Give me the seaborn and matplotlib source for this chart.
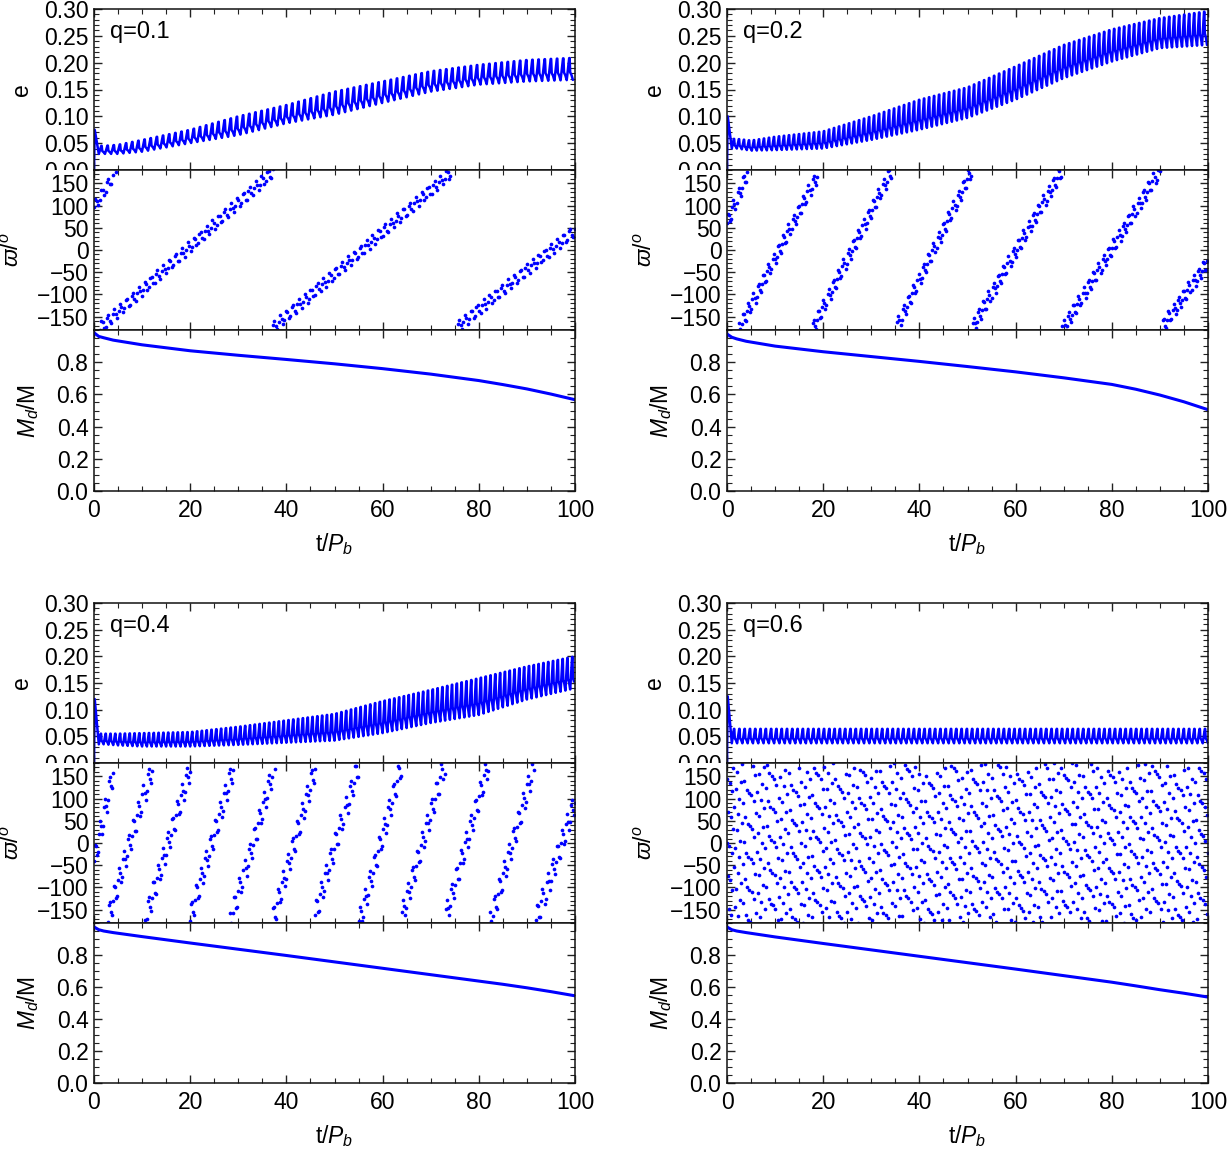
import numpy as np
import matplotlib
matplotlib.use("Agg")
import matplotlib.pyplot as plt
import seaborn as sns
from matplotlib.ticker import MultipleLocator
from matplotlib.transforms import Bbox, TransformedBbox

# ---- values ----
q_labels = ["q=0.1", "q=0.2", "q=0.4", "q=0.6"]

# eccentricity: upper / lower edge of the fast oscillation band
t_env = [2, 5, 10, 20, 30, 40, 50, 60, 70, 80, 90, 100]
e_hi_q01 = [0.045, 0.047, 0.056, 0.075, 0.100, 0.121, 0.146, 0.165, 0.184, 0.196, 0.205, 0.209]
e_lo_q01 = [0.030, 0.030, 0.034, 0.050, 0.065, 0.087, 0.103, 0.125, 0.146, 0.159, 0.165, 0.168]
e_hi_q02 = [0.058, 0.055, 0.062, 0.072, 0.100, 0.131, 0.154, 0.193, 0.233, 0.262, 0.283, 0.296]
e_lo_q02 = [0.040, 0.036, 0.037, 0.040, 0.056, 0.075, 0.097, 0.131, 0.171, 0.202, 0.227, 0.233]
e_hi_q04 = [0.055, 0.055, 0.056, 0.058, 0.068, 0.080, 0.092, 0.116, 0.137, 0.159, 0.181, 0.200]
e_lo_q04 = [0.035, 0.033, 0.031, 0.031, 0.034, 0.038, 0.042, 0.056, 0.075, 0.090, 0.119, 0.140]
e_hi_q06 = [0.064, 0.064, 0.064, 0.064, 0.064, 0.064, 0.064, 0.064, 0.064, 0.064, 0.064, 0.064]
e_lo_q06 = [0.037, 0.037, 0.037, 0.037, 0.037, 0.037, 0.037, 0.037, 0.037, 0.037, 0.037, 0.037]
e_spike = [0.075, 0.100, 0.120, 0.125]      # first peak near t=0
e_period = [1.28, 1.04, 1.00, 1.10]         # length of one oscillation (P_b)
# shape of one oscillation: (fraction of period, fraction of band height)
e_shape_f = [0.0, 0.40, 0.47, 0.56, 0.78]
e_shape_h = [0.0, 1.00, 1.00, 0.35, 0.22]

# longitude of pericentre: branches (start t, start deg, end t, end deg)
w_t0_q01 = [0.0, 1.2, 36.6, 74.7]
w_w0_q01 = [97, -175, -180, -180]
w_t1_q01 = [4.7, 37.5, 74.7, 100]
w_w1_q01 = [180, 180, 180, 45]

w_t0_q02 = [0.0, 2.3, 17.6, 34.9, 50.6, 69.6, 90.0]
w_w0_q02 = [60, -180, -180, -180, -180, -180, -180]
w_t1_q02 = [4.4, 19.3, 34.2, 50.9, 69.6, 90.0, 100]
w_w1_q02 = [180, 180, 180, 180, 180, 180, -26]

w_t0_q04 = [0.0, 2.6, 10.3, 19.6, 28.3, 36.9, 45.5, 55.0, 63.6, 72.6, 82.3, 91.7]
w_w0_q04 = [-40, -180, -180, -180, -180, -180, -180, -180, -180, -180, -180, -180]
w_t1_q04 = [4.4, 12.3, 20.3, 29.3, 37.6, 46.3, 55.0, 64.0, 73.0, 82.0, 91.7, 100]
w_w1_q04 = [180, 180, 180, 180, 180, 180, 180, 180, 180, 180, 180, 97]

w_wobble = [13, 16, 26, 45]          # scatter half-width of the dots (deg)
w_step = [0.30, 0.22, 0.21, 0.095]   # output interval of the dots (P_b)
w_wob_period = [1.28, 1.04, 1.0, 4.7]
w_rate_q06 = 1447.4                  # q=0.6: fast apsidal turning between outputs (deg / P_b)

# disc mass fraction
t_md = [0, 1, 2, 4, 10, 20, 30, 40, 50, 60, 70, 80, 85, 90, 95, 100]
md_q01 = [0.983, 0.960, 0.952, 0.937, 0.908, 0.871, 0.843, 0.817, 0.790, 0.760, 0.726, 0.686, 0.661, 0.634, 0.602, 0.567]
md_q02 = [0.975, 0.955, 0.945, 0.930, 0.900, 0.865, 0.835, 0.805, 0.773, 0.740, 0.703, 0.662, 0.632, 0.596, 0.554, 0.505]
md_q04 = [0.975, 0.958, 0.950, 0.940, 0.915, 0.875, 0.836, 0.797, 0.757, 0.717, 0.677, 0.637, 0.617, 0.595, 0.571, 0.545]
md_q06 = [0.975, 0.958, 0.950, 0.940, 0.913, 0.872, 0.832, 0.792, 0.752, 0.712, 0.671, 0.630, 0.607, 0.583, 0.561, 0.537]

e_hi = [e_hi_q01, e_hi_q02, e_hi_q04, e_hi_q06]
e_lo = [e_lo_q01, e_lo_q02, e_lo_q04, e_lo_q06]
w_br = [(w_t0_q01, w_w0_q01, w_t1_q01, w_w1_q01),
        (w_t0_q02, w_w0_q02, w_t1_q02, w_w1_q02),
        (w_t0_q04, w_w0_q04, w_t1_q04, w_w1_q04),
        None]
md = [md_q01, md_q02, md_q04, md_q06]


def e_curve(i):
    # repeat the oscillation shape between the read band edges
    tt = [0.0, 0.15, 1.0]
    ee = [0.0, e_spike[i], np.interp(1.0, t_env, e_lo[i])]
    P = e_period[i]
    t = 1.0
    while t < 100:
        for f, h in zip(e_shape_f, e_shape_h):
            tp = t + f * P
            if tp > 100:
                break
            lo = np.interp(tp, t_env, e_lo[i])
            hi = np.interp(tp, t_env, e_hi[i])
            tt.append(tp)
            ee.append(lo + h * (hi - lo))
        t += P
    return np.array(tt), np.array(ee)


def w_dots(i):
    step = w_step[i]
    if w_br[i] is None:
        ts = np.arange(0, 100 + 1e-9, step)
        ws = w_rate_q06 * ts + w_wobble[i] * np.sin(2 * np.pi * ts / w_wob_period[i])
        ws = (ws + 180) % 360 - 180
        return ts, ws
    t0s, w0s, t1s, w1s = w_br[i]
    ts_all, ws_all = [], []
    for t0, w0, t1, w1 in zip(t0s, w0s, t1s, w1s):
        ts = np.arange(np.ceil(t0 / step) * step, t1 + 1e-9, step)
        ws = w0 + (w1 - w0) * (ts - t0) / (t1 - t0)
        ws = ws + w_wobble[i] * np.sin(2 * np.pi * ts / w_wob_period[i])
        ts_all.append(ts)
        ws_all.append(ws)
    return np.concatenate(ts_all), np.concatenate(ws_all)


sns.set_style("ticks")
plt.rcParams["font.family"] = ["Liberation Sans", "DejaVu Sans"]
plt.rcParams["mathtext.fontset"] = "custom"
plt.rcParams["mathtext.rm"] = "Liberation Sans"
plt.rcParams["mathtext.it"] = "Liberation Sans:italic"
plt.rcParams["text.color"] = "black"
plt.rcParams["axes.labelcolor"] = "black"
plt.rcParams["xtick.color"] = "black"
plt.rcParams["ytick.color"] = "black"

W, H = 1230, 1155
fig = plt.figure(figsize=(W / 100, H / 100), dpi=100)
col_x = [94, 727, 94, 727]
row_y = [[9, 170, 330, 491], [9, 170, 330, 491], [603, 763, 923, 1083], [603, 763, 923, 1083]]
blue = "#0000ff"
fs = 16.5


def style(ax):
    ax.tick_params(which="both", direction="in", top=True, right=True,
                   color="#222222", labelcolor="black", labelsize=fs, pad=4)
    ax.tick_params(which="major", length=6, width=1.0)
    ax.tick_params(which="minor", length=3.5, width=0.8)
    for s in ax.spines.values():
        s.set_linewidth(1.1)
        s.set_color("#111111")
    ax.set_xlim(0, 100)
    ax.xaxis.set_major_locator(MultipleLocator(20))
    ax.xaxis.set_minor_locator(MultipleLocator(5))


for i in range(4):
    x0 = col_x[i]
    ys = row_y[i]
    axes = []
    for k in range(3):
        axes.append(fig.add_axes([x0 / W, 1 - ys[k + 1] / H, 481 / W, (ys[k + 1] - ys[k]) / H]))
    ax_e, ax_w, ax_m = axes

    # eccentricity
    tt, ee = e_curve(i)
    sns.lineplot(x=tt, y=ee, ax=ax_e, color=blue, linewidth=1.8, estimator=None, sort=False)
    style(ax_e)
    ax_e.set_ylim(0, 0.30)
    ax_e.set_yticks(np.arange(0, 0.301, 0.05))
    ax_e.set_yticklabels(["%.2f" % v for v in np.arange(0, 0.301, 0.05)])
    ax_e.yaxis.set_minor_locator(MultipleLocator(0.01))
    ax_e.set_xticklabels([])
    ax_e.set_xlabel("")
    ax_e.set_ylabel("e", fontsize=fs)
    ax_e.yaxis.set_label_coords(-0.127, 0.5)
    ax_e.text(0.033, 0.855, q_labels[i], transform=ax_e.transAxes, fontsize=17, va="center")
    clip = TransformedBbox(Bbox([[0, 1 - ys[1] / H], [1, 1]]), fig.transFigure)
    for tk in ax_e.yaxis.get_major_ticks():
        tk.label1.set_clip_on(True)
        tk.label1.set_clip_box(clip)

    # longitude of pericentre
    tw, ww = w_dots(i)
    sns.scatterplot(x=tw, y=ww, ax=ax_w, color=blue, s=7, linewidth=0)
    style(ax_w)
    ax_w.set_ylim(-180, 180)
    ax_w.set_yticks([-150, -100, -50, 0, 50, 100, 150])
    ax_w.set_yticklabels(["\u2212150", "\u2212100", "\u221250", "0", "50", "100", "150"])
    ax_w.yaxis.set_minor_locator(MultipleLocator(10))
    ax_w.set_xticklabels([])
    ax_w.set_xlabel("")
    ax_w.set_ylabel(r"$\varpi$/$^o$", fontsize=fs)
    ax_w.yaxis.set_label_coords(-0.145, 0.5)

    # disc mass
    sns.lineplot(x=t_md, y=md[i], ax=ax_m, color=blue, linewidth=2.2, estimator=None, sort=False)
    style(ax_m)
    ax_m.set_ylim(0, 1.0)
    ax_m.set_yticks([0, 0.2, 0.4, 0.6, 0.8])
    ax_m.set_yticklabels(["0.0", "0.2", "0.4", "0.6", "0.8"])
    ax_m.yaxis.set_minor_locator(MultipleLocator(0.05))
    ax_m.set_xticks([0, 20, 40, 60, 80, 100])
    ax_m.set_xticklabels(["0", "20", "40", "60", "80", "100"])
    ax_m.tick_params(axis="x", pad=6)
    ax_m.set_ylabel(r"$M_d$/M", fontsize=fs)
    ax_m.yaxis.set_label_coords(-0.11, 0.5)
    ax_m.set_xlabel(r"t/$P_b$", fontsize=fs)
    ax_m.xaxis.set_label_coords(0.5, -0.25)

fig.savefig("out.png", dpi=100)
